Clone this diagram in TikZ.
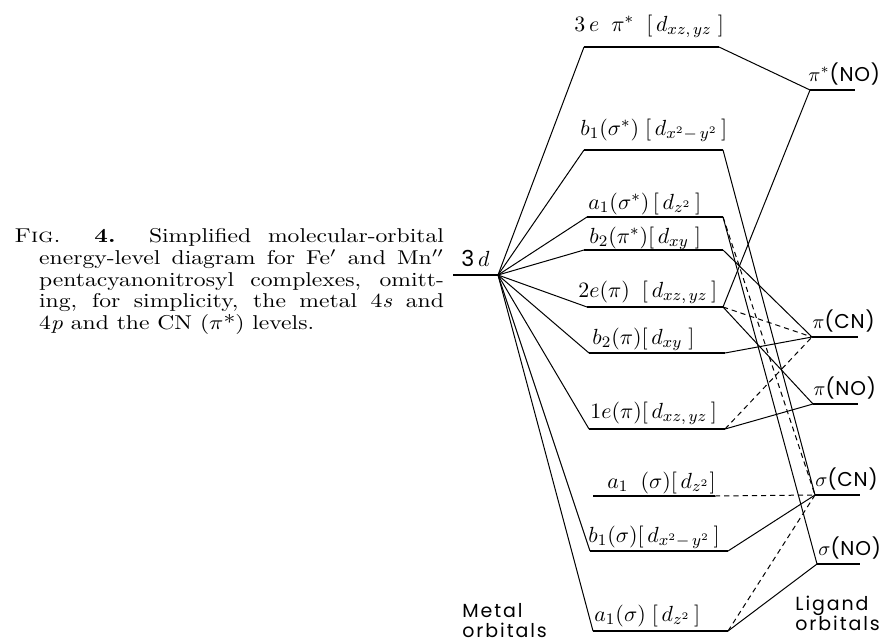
\documentclass[tikz,border=0pt]{standalone}
\usepackage{fontspec}
\usepackage{graphicx}
\usepackage{tikz}
\usetikzlibrary{positioning}
\newfontfamily\ligfont{Poppins}[LetterSpace=4]
\newfontfamily\sidefont{Poppins}[LetterSpace=10]

\begin{document}
\begin{tikzpicture}[x=0.5pt, y=-0.5pt,
    level/.style={line width=0.75pt},
    link/.style={line width=0.5pt},
    mixlink/.style={line width=0.5pt, dash pattern=on 2.6pt off 2pt},
    molab/.style={anchor=base west, inner sep=0pt, font=\fontsize{11}{13}\selectfont},
    liglab/.style={anchor=base west, inner sep=0pt, font=\ligfont\fontsize{10}{12}\selectfont},
    sidelab/.style={anchor=north west, inner sep=0pt, align=left, font=\sidefont\fontsize{9.5}{10}\selectfont}]
    \useasboundingbox (0,0) rectangle (888,643);

    % caption
    \node[anchor=north west, inner sep=0pt] (capt) at (14,228) {\scalebox{1.18}[1]{\parbox{182pt}{%
        \fontsize{10}{10.9}\selectfont
        \makebox[182pt][s]{\textsc{Fig.}\ \ \textbf{4.}\ \ Simplified molecular-orbital}\\
        \hspace*{10.5pt}\makebox[171.5pt][s]{energy-level diagram for Fe$'$ and Mn$''$}\\
        \hspace*{10.5pt}\makebox[171.5pt][s]{pentacyanonitrosyl complexes, omitt-}\\
        \hspace*{10.5pt}\makebox[171.5pt][s]{ing, for simplicity, the metal 4\textit{s} and}\\
        \hspace*{10.5pt}4\textit{p} and the CN ($\pi$*) levels.}}};

    % energy levels: name/left/right/height
    \foreach \lv/\xa/\xb/\yy in {d3/453/498/275,
        e3/584/719/47, b1s/584/723/150, a1s/587/723/217, b2s/584/723/250,
        e2/587/723/307, b2/589/725/353, e1/589/725/429, a1n/593/715/496,
        b1/590/728/551, a1/593/728/631,
        pnos/810/855/90, pcn/812/858/337, pno/813/858/404,
        scn/815/860/495, sno/817/860/564} {
        \coordinate (\lv-l) at (\xa,\yy);
        \coordinate (\lv-r) at (\xb,\yy);
        \draw[level] (\lv-l) -- (\lv-r);
    }

    % metal side
    \foreach \lv in {e3,b1s,a1s,b2s,e2,b2,e1,b1,a1}
        \draw[link] (d3-r) -- (\lv-l);

    % ligand side
    \foreach \a/\b in {e3/pnos, e2/pnos, b2s/pcn, e2/pno, b2/pcn, e1/pno,
        b1s/scn, a1s/sno, b1/scn, a1/sno}
        \draw[link] (\a-r) -- (\b-l);
    \foreach \a/\b in {a1s/scn, e2/pcn, e1/pcn, a1n/scn, a1/scn}
        \draw[mixlink] (\a-r) -- (\b-l);

    % level labels
    \node[molab] (d3lab) at (461,266) {{\ligfont 3}\,$d$};
    \node[molab] (e3lab) at (574,31) {$3\,e\;\;\pi^{*}\;\;\bigl[\,d_{xz,\,yz}\;\bigr]$};
    \node[molab] (b1slab) at (580,135) {$b_1(\sigma^{*})\;\bigl[\,d_{x^2-\,y^2}\,\bigr]$};
    \node[molab] (a1slab) at (588,209) {$a_1(\sigma^{*})\,\bigl[\,d_{z^2}\,\bigr]$};
    \node[molab] (b2slab) at (589,243) {$b_2(\pi^{*})\bigl[\,d_{xy}\;\bigr]$};
    \node[molab] (e2lab) at (578,297) {$2e(\pi)\;\;\bigl[\,d_{xz,\,yz}\,\bigr]$};
    \node[molab] (b2lab) at (592,344) {$b_2(\pi)\bigl[\,d_{xy}\;\bigr]$};
    \node[molab] (e1lab) at (590,418) {$1e(\pi)\bigl[\,d_{xz,\,yz}\,\bigr]$};
    \node[molab] (a1nlab) at (607,488) {$a_1\;\;(\sigma)\bigl[\,d_{z^2}\bigr]$};
    \node[molab] (b1lab) at (588,542) {$b_1(\sigma)\bigl[\,d_{x^2-\,y^2}\,\bigr]$};
    \node[molab] (a1lab) at (594,621) {$a_1(\sigma)\;\bigl[\,d_{z^2}\,\bigr]$};

    \node[liglab] (pnoslab) at (808,81) {$\pi^{*}$(NO)};
    \node[liglab] (pcnlab) at (812,328) {$\pi$(CN)};
    \node[liglab] (pnolab) at (813,395) {$\pi$(NO)};
    \node[liglab] (scnlab) at (815,486) {$\sigma$(CN)};
    \node[liglab] (snolab) at (818,555) {$\sigma$(NO)};

    \node[sidelab] (metal) at (462,603) {Metal\\orbitals};
    \node[sidelab] (ligand) at (795,596) {Ligand\\orbitals};
\end{tikzpicture}
\end{document}
